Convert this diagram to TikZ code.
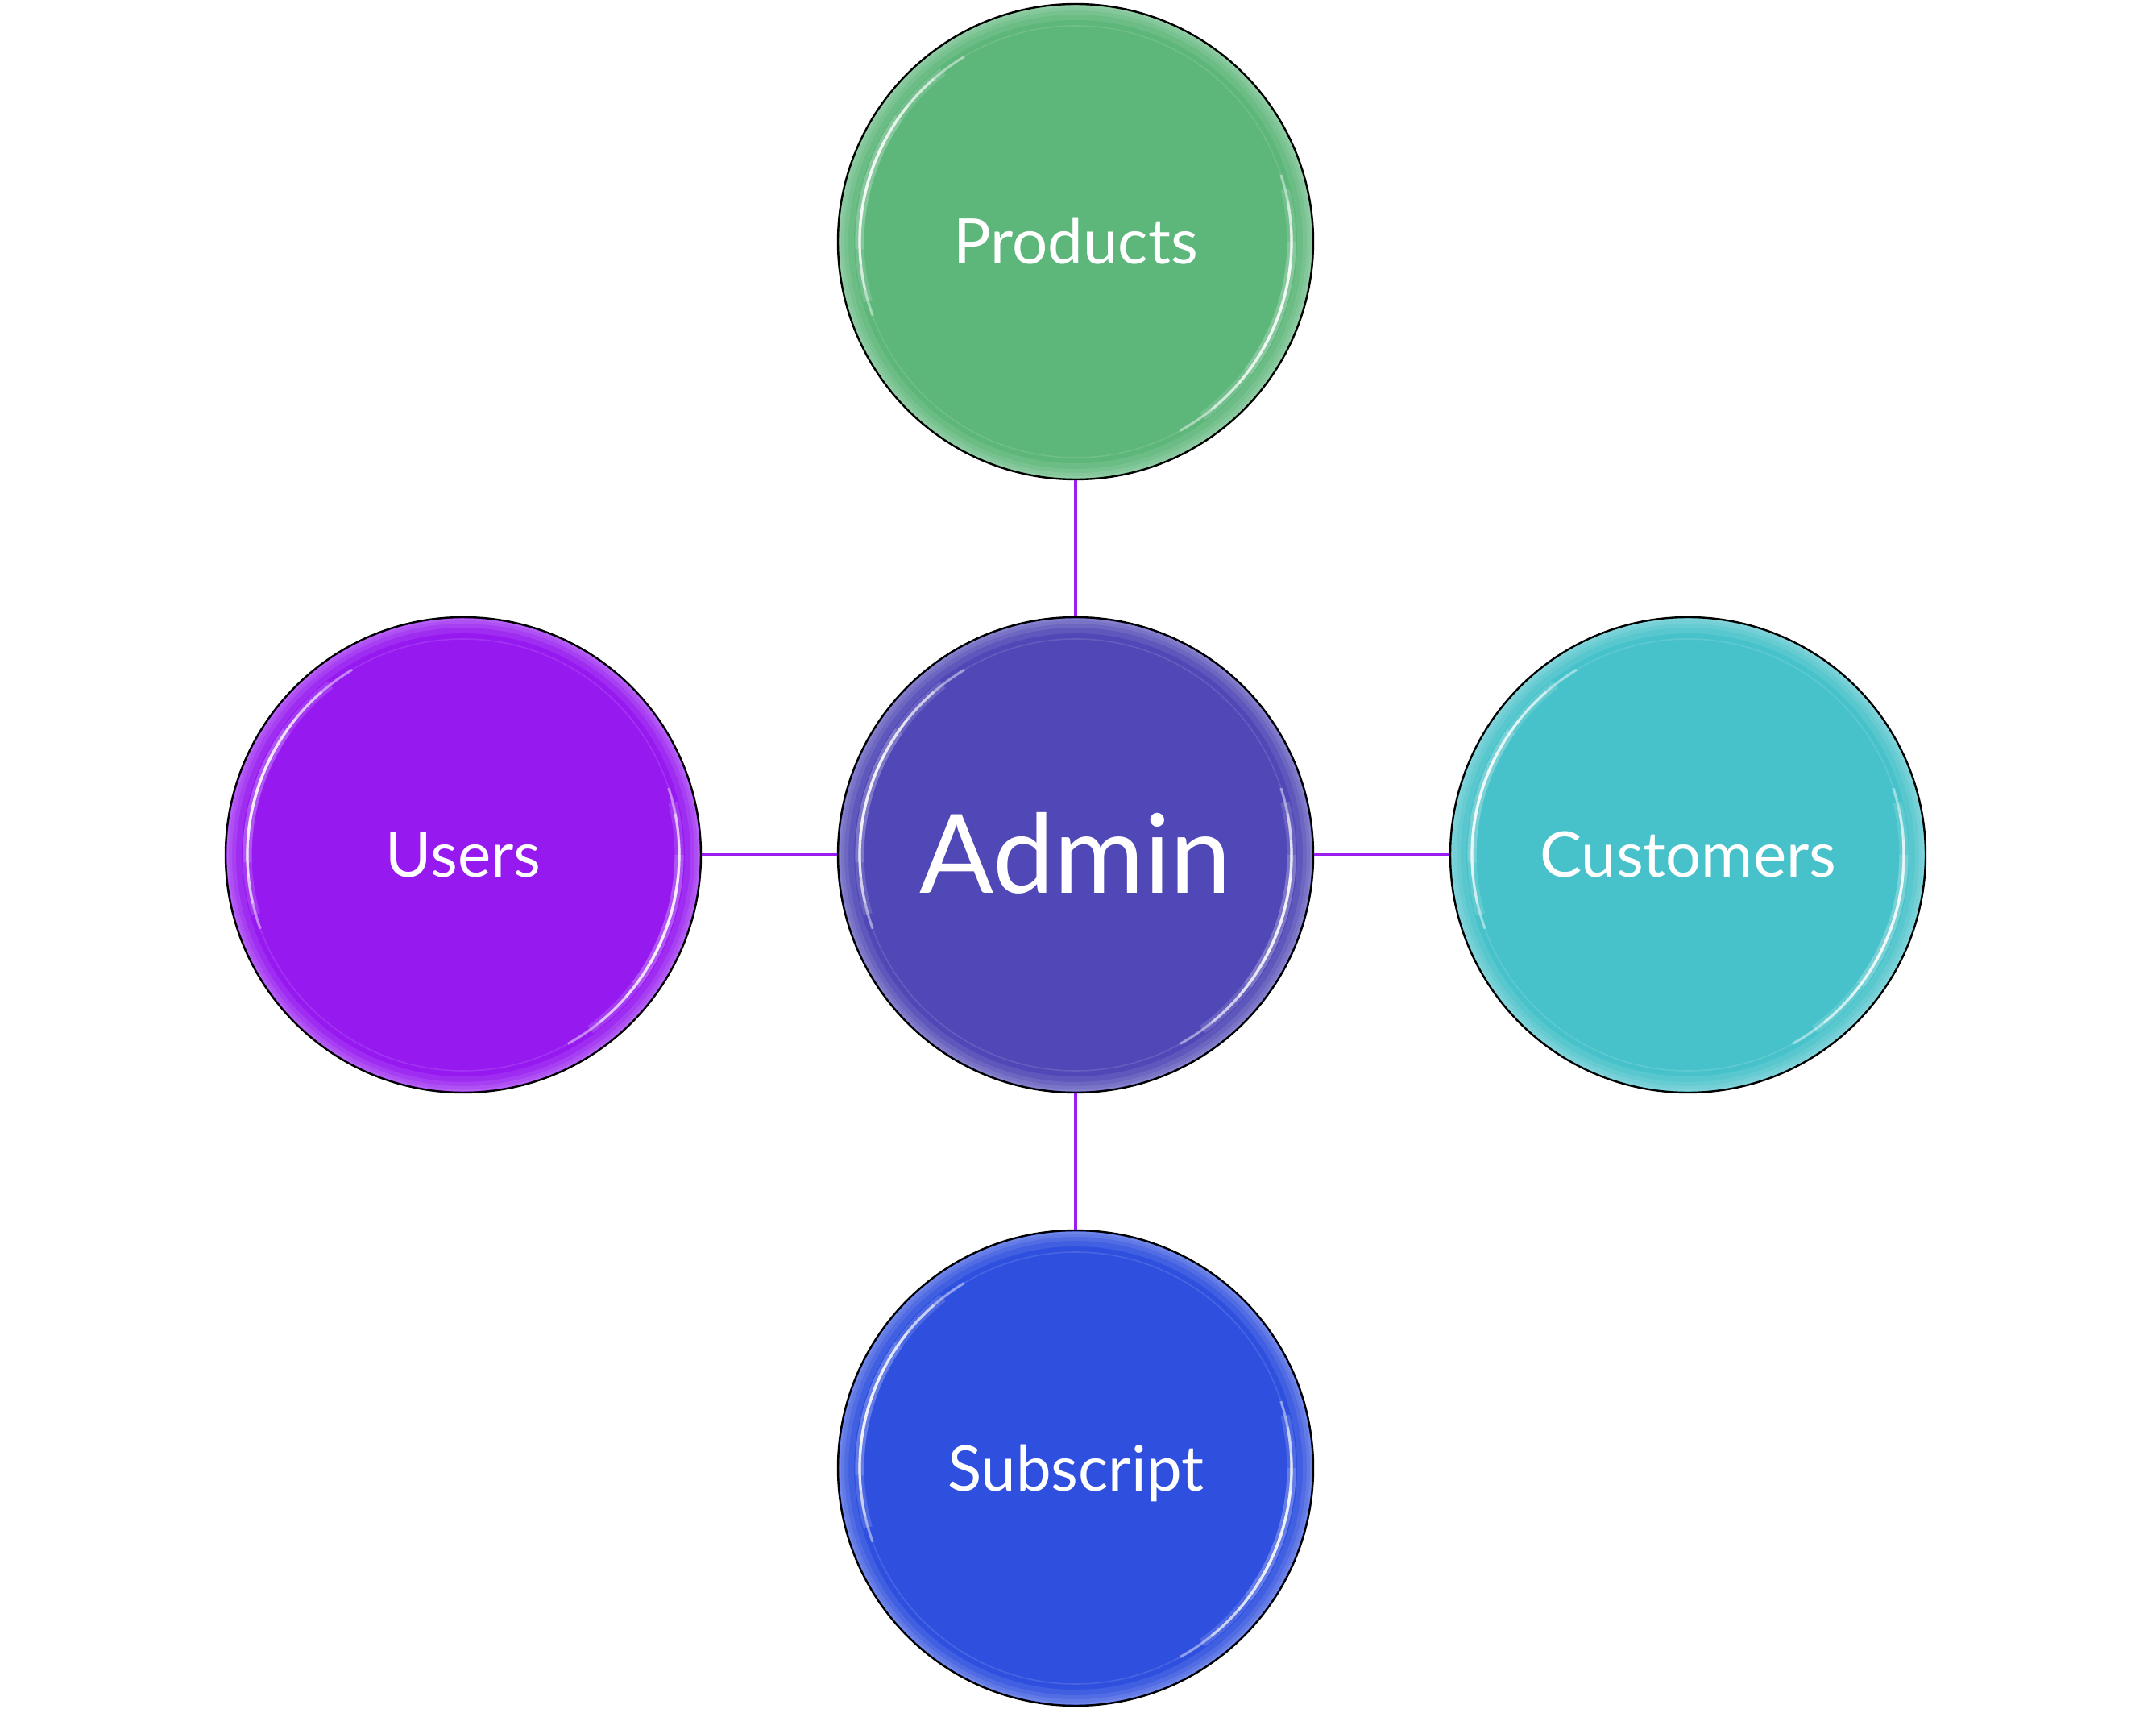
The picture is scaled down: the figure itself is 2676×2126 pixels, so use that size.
\documentclass[tikz,border=0pt]{standalone}
\usepackage{fontspec}
\setmainfont{Lato}
\definecolor{cgreen}{HTML}{5DB67A}
\definecolor{cadmin}{HTML}{5048B6}
\definecolor{cusers}{HTML}{9619F0}
\definecolor{ccust}{HTML}{48C2CA}
\definecolor{csub}{HTML}{2F50DF}
\definecolor{linkc}{HTML}{9B1EF0}
\newcommand{\glossat}[1]{%
  \begin{scope}[shift={(#1.center)},x=0.25pt,y=0.25pt]
    \clip (0,0) circle (293.5);
    \foreach \w in {40,26,16,8}{
      \draw[white,opacity=0.09,line width=\w*0.25pt] (0,0) circle (295);}
    \foreach \a/\b in {152/176,141/186,131/193,121/200}{
      \draw[white,opacity=0.42,line width=0.8pt] (\a:268) arc (\a:\b:268);
      \draw[white,opacity=0.42,line width=0.8pt] (\a+178:268) arc (\a+178:\b+178:268);}
    \foreach \a/\b in {145/182,128/196}{
      \draw[white,opacity=0.14,line width=2.8pt] (\a:268) arc (\a:\b:268);
      \draw[white,opacity=0.14,line width=2.8pt] (\a+178:268) arc (\a+178:\b+178:268);}
    \draw[white,opacity=0.12,line width=0.4pt] (0,0) circle (268);
  \end{scope}}
\begin{document}
\begin{tikzpicture}[x=0.25pt,y=-0.25pt,
  bub/.style={circle,draw=black,line width=0.6pt,minimum size=147.5pt,inner sep=0pt,
    text=white,font=\fontsize{19.5}{23}\selectfont,text height=14pt,text depth=0pt},
  bigbub/.style={bub,font=\fontsize{34}{40}\selectfont,text height=23.5pt},
  link/.style={draw=linkc,line width=1.1pt}]
\useasboundingbox (0,0) rectangle (2676,2126);
\node[bub,fill=cgreen] (prod) at (1335,300) {Products};
\node[bigbub,fill=cadmin] (admin) at (1335,1061) {Admin};
\node[bub,fill=cusers] (users) at (575,1061) {Users};
\node[bub,fill=ccust] (cust) at (2095,1061) {Customers};
\node[bub,fill=csub] (sub) at (1335,1822) {Subscript};
\glossat{prod}
\glossat{admin}
\glossat{users}
\glossat{cust}
\glossat{sub}
\draw[link] (prod.south) -- (admin.north);
\draw[link] (users.east) -- (admin.west);
\draw[link] (admin.east) -- (cust.west);
\draw[link] (admin.south) -- (sub.north);
\end{tikzpicture}
\end{document}
